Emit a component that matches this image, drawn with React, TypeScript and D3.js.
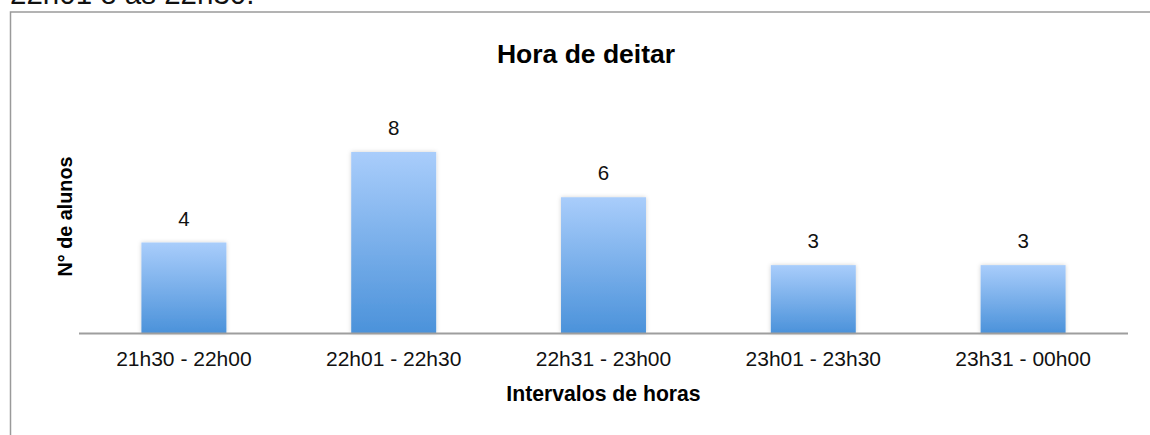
import React from "react";
import * as d3 from "d3";

// chart data
const categories = ["21h30 - 22h00", "22h01 - 22h30", "22h31 - 23h00", "23h01 - 23h30", "23h31 - 00h00"];
const alunos = [4, 8, 6, 3, 3];

const chartTitle = "Hora de deitar";
const xTitle = "Intervalos de horas";
const yTitle = "N° de alunos";
const aboveText = "22h01 e às 22h30.";

const W = 1150;
const H = 435;
const FONT = "'Liberation Sans', Arial, Helvetica, sans-serif";

export default function App() {
  const margin = { left: 79, right: 22, top: 152, bottom: 102 };

  const x = d3
    .scaleBand<string>()
    .domain(categories)
    .range([margin.left, W - margin.right])
    .paddingInner(0.595)
    .paddingOuter(0.2975);

  const y = d3
    .scaleLinear()
    .domain([0, d3.max(alunos) || 1])
    .range([H - margin.bottom, margin.top]);

  const baseY = y(0);

  return (
    <svg
      width={W}
      height={H}
      style={{ position: "absolute", left: 0, top: 0, background: "#fff" }}
      fontFamily={FONT}
    >
      <defs>
        <linearGradient id="barGrad" x1="0" y1="0" x2="0" y2="1">
          <stop offset="0%" stopColor="#a9cdfb" />
          <stop offset="100%" stopColor="#4b92da" />
        </linearGradient>
        <filter id="barShadow" x="-20%" y="-20%" width="140%" height="140%">
          <feDropShadow dx="0" dy="0" stdDeviation="2" floodColor="#000" floodOpacity="0.18" />
        </filter>
      </defs>

      {/* cut-off text from the document above, as in the source */}
      <text x={10} y={4} fontSize={29.5} fill="#111">
        {aboveText}
      </text>

      {/* frame */}
      <rect x={10.5} y={12} width={W + 20} height={H + 20} fill="none" stroke="#9a9a9a" strokeWidth={1.5} />

      {/* title */}
      <text x={586} y={63} textAnchor="middle" fontSize={26.5} fontWeight="bold" fill="#000">
        {chartTitle}
      </text>

      {/* bars */}
      <g filter="url(#barShadow)">
        {alunos.map((v, i) => (
          <rect
            key={categories[i]}
            x={x(categories[i])}
            y={y(v)}
            width={x.bandwidth()}
            height={baseY - y(v)}
            fill="url(#barGrad)"
          />
        ))}
      </g>

      {/* value labels */}
      {alunos.map((v, i) => (
        <text
          key={"v" + i}
          x={(x(categories[i]) || 0) + x.bandwidth() / 2}
          y={y(v) - 17}
          textAnchor="middle"
          fontSize={20.5}
          fill="#111"
        >
          {v}
        </text>
      ))}

      {/* x axis line */}
      <line x1={margin.left} x2={W - margin.right} y1={baseY + 0.5} y2={baseY + 0.5} stroke="#9e9e9e" strokeWidth={2} />

      {/* category labels */}
      {categories.map((c) => (
        <text
          key={c}
          x={(x(c) || 0) + x.bandwidth() / 2}
          y={366}
          textAnchor="middle"
          fontSize={21}
          fill="#111"
        >
          {c}
        </text>
      ))}

      {/* axis titles */}
      <text x={(margin.left + W - margin.right) / 2} y={401} textAnchor="middle" fontSize={21.2} fontWeight="bold" fill="#000">
        {xTitle}
      </text>
      <text
        transform={`translate(72, 216.5) rotate(-90)`}
        textAnchor="middle"
        fontSize={19.8}
        fontWeight="bold"
        fill="#000"
      >
        {yTitle}
      </text>
    </svg>
  );
}
